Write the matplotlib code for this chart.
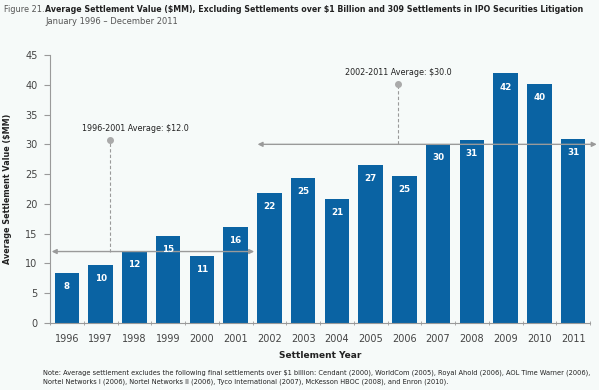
import matplotlib.pyplot as plt
import numpy as np

plt.rcParams["text.parse_math"] = False

years = ["1996", "1997", "1998", "1999", "2000", "2001", "2002", "2003",
         "2004", "2005", "2006", "2007", "2008", "2009", "2010", "2011"]
values = [8.4, 9.7, 12.1, 14.6, 11.3, 16.2, 21.9, 24.4,
          20.8, 26.5, 24.7, 30.1, 30.7, 41.9, 40.2, 30.9]
labels = ["8", "10", "12", "15", "11", "16", "22", "25",
          "21", "27", "25", "30", "31", "42", "40", "31"]
avg_early = 12.0
avg_late = 30.0

bg = "#f6faf9"
bar_color = "#0a63a3"
grey = "#9a9a9a"
text_color = "#222222"

fig = plt.figure(figsize=(5.99, 3.90), dpi=100, facecolor=bg)
ax = fig.add_axes([50 / 599, 1 - 323 / 390, 540 / 599, 268 / 390], facecolor=bg)

x = np.arange(len(years))
ax.bar(x, values, width=0.72, color=bar_color, zorder=2)
for xi, v, lab in zip(x, values, labels):
    ax.text(xi, v - 2.3, lab, ha="center", va="center", color="white",
            fontsize=6.3, fontweight="bold", zorder=4)

ax.set_xlim(-0.5, 15.5)
ax.set_ylim(0, 45)
ax.set_yticks(range(0, 46, 5))
ax.set_xticks(x)
ax.set_xticklabels(years)
ax.set_xticks(np.arange(-0.5, 16, 1), minor=True)
ax.tick_params(axis="x", which="major", length=0, pad=8, labelsize=7, labelcolor="#444444")
ax.tick_params(axis="x", which="minor", length=3, color=grey, direction="inout")
ax.tick_params(axis="y", length=4, color=grey, labelsize=7, labelcolor="#444444", pad=5)
for s in ["top", "right"]:
    ax.spines[s].set_visible(False)
for s in ["left", "bottom"]:
    ax.spines[s].set_color(grey)
    ax.spines[s].set_linewidth(0.8)

# average arrows
arrow = dict(arrowstyle="<|-|>", color=grey, lw=1.0, mutation_scale=7,
             shrinkA=0, shrinkB=0)
ax.annotate("", xy=(-0.45, avg_early), xytext=(5.55, avg_early),
            arrowprops=arrow, zorder=3, annotation_clip=False)
ax.annotate("", xy=(5.65, avg_late), xytext=(15.7, avg_late),
            arrowprops=arrow, zorder=3, annotation_clip=False)

# callouts
ax.plot([1.28, 1.28], [avg_early, 30.7], ls=(0, (3, 2)), color=grey, lw=0.8, zorder=3)
ax.plot([1.28], [30.7], "o", color="#aaaaaa", ms=4, zorder=3)
ax.text(0.45, 32.6, "1996-2001 Average: $12.0", fontsize=5.8, color=text_color,
        ha="left", va="center")
ax.plot([9.82, 9.82], [avg_late, 40.1], ls=(0, (3, 2)), color=grey, lw=0.8, zorder=3)
ax.plot([9.82], [40.1], "o", color="#aaaaaa", ms=4, zorder=3)
ax.text(9.82, 42.0, "2002-2011 Average: $30.0", fontsize=5.8, color=text_color,
        ha="center", va="center")

ax.set_ylabel("Average Settlement Value ($MM)", fontsize=5.8, fontweight="bold",
              color=text_color, labelpad=9)
ax.set_xlabel("Settlement Year", fontsize=6.5, fontweight="bold", color=text_color,
              labelpad=5)

fig.text(4 / 599, 1 - 9 / 390, "Figure 21.", fontsize=5.9, color="#555555",
         ha="left", va="center")
fig.text(45 / 599, 1 - 9 / 390,
         "Average Settlement Value ($MM), Excluding Settlements over $1 Billion and 309 Settlements in IPO Securities Litigation",
         fontsize=5.65, fontweight="bold", color=text_color, ha="left", va="center")
fig.text(45 / 599, 1 - 22 / 390, "January 1996 \u2013 December 2011", fontsize=6.0,
         color="#555555", ha="left", va="center")

note = ("Note: Average settlement excludes the following final settlements over $1 billion: "
        "Cendant (2000), WorldCom (2005), Royal Ahold (2006), AOL Time Warner (2006),\n"
        "Nortel Networks I (2006), Nortel Networks II (2006), Tyco International (2007), "
        "McKesson HBOC (2008), and Enron (2010).")
fig.text(43 / 599, 1 - 377 / 390, note, fontsize=4.75, color=text_color,
         ha="left", va="center", linespacing=1.6)

fig.savefig("out.png", dpi=100, facecolor=bg)
